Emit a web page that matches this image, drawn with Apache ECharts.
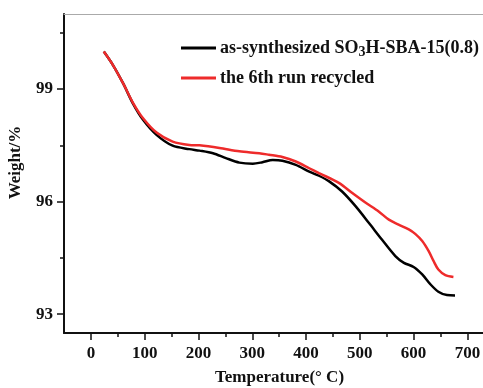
<!DOCTYPE html>
<html>
<head>
<meta charset="utf-8">
<script src="https://cdn.jsdelivr.net/npm/echarts@6/dist/echarts.min.js"></script>
<style>
  html, body { margin: 0; padding: 0; background: #fff; }
  #chart { width: 483px; height: 388px; }
</style>
</head>
<body>
<div id="chart"></div>
<script>
// TGA curves: temperature (°C) vs residual weight (%)
const asSynthTemp = [24, 41, 60, 78, 97, 122, 152, 183, 202, 227, 251, 276, 301, 319, 338, 356, 381, 406, 424, 443, 467, 492, 517, 541, 566, 582, 600, 616, 631, 646, 662, 677];
const asSynthWeight = [100.0, 99.64, 99.15, 98.62, 98.18, 97.78, 97.49, 97.40, 97.36, 97.29, 97.16, 97.04, 97.01, 97.05, 97.11, 97.09, 96.98, 96.80, 96.69, 96.54, 96.27, 95.88, 95.43, 94.99, 94.55, 94.37, 94.26, 94.06, 93.80, 93.60, 93.51, 93.50];

const recycledTemp = [24, 41, 60, 78, 97, 122, 152, 183, 202, 239, 276, 313, 331, 356, 381, 406, 424, 461, 486, 511, 535, 554, 572, 591, 603, 616, 628, 637, 646, 659, 674];
const recycledWeight = [100.0, 99.64, 99.15, 98.64, 98.22, 97.84, 97.60, 97.51, 97.50, 97.43, 97.34, 97.29, 97.25, 97.19, 97.07, 96.89, 96.76, 96.50, 96.23, 95.97, 95.74, 95.52, 95.39, 95.26, 95.14, 94.95, 94.68, 94.42, 94.19, 94.04, 93.99];

const xMajorTicks = [0, 100, 200, 300, 400, 500, 600, 700];
const xMinorTicks = [50, 150, 250, 350, 450, 550, 650];
const yMajorTicks = [93, 96, 99];
const yMinorTicks = [94.5, 97.5, 100.5];

const seriesNames = ['as-synthesized SO3H-SBA-15(0.8)', 'the 6th run recycled'];

const pair = (xs, ys) => xs.map((x, i) => [x, ys[i]]);

const FONT = '"Liberation Serif", "DejaVu Serif", serif';
const X_MIN = -50, X_MAX = 729, Y_MIN = 92.5, Y_MAX = 101;

const chart = echarts.init(document.getElementById('chart'), null, { renderer: 'canvas' });

const hiddenX = (extra) => Object.assign({
  type: 'value', min: X_MIN, max: X_MAX, gridIndex: 0,
  splitLine: { show: false }, axisLabel: { show: false }
}, extra);
const hiddenY = (extra) => Object.assign({
  type: 'value', min: Y_MIN, max: Y_MAX, gridIndex: 0,
  splitLine: { show: false }, axisLabel: { show: false }
}, extra);

chart.setOption({
  animation: false,
  backgroundColor: '#fff',
  grid: { left: 64, right: 0, top: 14, bottom: 55, containLabel: false, outerBoundsMode: 'none' },
  legend: {
    data: seriesNames,
    orient: 'vertical',
    left: 181,
    top: 39,
    padding: 0,
    itemGap: 10,
    itemWidth: 35,
    itemHeight: 3,
    icon: 'rect',
    formatter: (name) => name.indexOf('SO3H') >= 0
      ? 'as-synthesized SO{sub|3}H-SBA-15(0.8)'
      : name,
    textStyle: {
      fontFamily: FONT, fontWeight: 'bold', fontSize: 18, color: '#111',
      padding: [0, 0, 0, -1],
      rich: {
        sub: { fontFamily: FONT, fontWeight: 'bold', fontSize: 14, color: '#111', verticalAlign: 'bottom', padding: [8, 0, 0, 0] }
      }
    }
  },
  xAxis: [
    {
      type: 'value', min: X_MIN, max: X_MAX,
      name: 'Temperature(° C)',
      nameLocation: 'middle',
      nameGap: 36,
      nameTextStyle: { fontFamily: FONT, fontWeight: 'bold', fontSize: 17, color: '#111', padding: [0, 0, 0, 12] },
      axisLine: { onZero: false, lineStyle: { color: '#111', width: 2 } },
      axisTick: { show: true, inside: false, length: 7, customValues: xMajorTicks, lineStyle: { color: '#111', width: 1.5 } },
      axisLabel: { customValues: xMajorTicks, margin: 12, fontFamily: FONT, fontWeight: 'bold', fontSize: 17, color: '#111' },
      splitLine: { show: false }
    },
    hiddenX({
      position: 'bottom',
      axisLine: { show: false, onZero: false },
      axisTick: { show: true, length: 4, customValues: xMinorTicks, lineStyle: { color: '#111', width: 1.5 } }
    }),
    hiddenX({
      position: 'top',
      axisLine: { show: true, onZero: false, lineStyle: { color: '#aaa', width: 1 } },
      axisTick: { show: false }
    })
  ],
  yAxis: [
    {
      type: 'value', min: Y_MIN, max: Y_MAX,
      position: 'left',
      name: 'Weight/%',
      nameLocation: 'middle',
      nameGap: 40,
      nameTextStyle: { fontFamily: FONT, fontWeight: 'bold', fontSize: 17, color: '#111', padding: [0, 0, 0, 22] },
      axisLine: { onZero: false, lineStyle: { color: '#111', width: 2 } },
      axisTick: { show: true, inside: false, length: 7, customValues: yMajorTicks, lineStyle: { color: '#111', width: 1.5 } },
      axisLabel: { customValues: yMajorTicks, margin: 11, fontFamily: FONT, fontWeight: 'bold', fontSize: 17, color: '#111' },
      splitLine: { show: false }
    },
    hiddenY({
      position: 'left',
      axisLine: { show: false, onZero: false },
      axisTick: { show: true, length: 4, customValues: yMinorTicks, lineStyle: { color: '#111', width: 1.5 } }
    })
  ],
  series: [
    {
      name: seriesNames[0], type: 'line', xAxisIndex: 0, yAxisIndex: 0,
      data: pair(asSynthTemp, asSynthWeight),
      smooth: 0.3, symbol: 'none',
      color: '#000',
      lineStyle: { color: '#000', width: 2.5 },
      z: 3
    },
    {
      name: seriesNames[1], type: 'line', xAxisIndex: 0, yAxisIndex: 0,
      data: pair(recycledTemp, recycledWeight),
      smooth: 0.3, symbol: 'none',
      color: '#ee2b2b',
      lineStyle: { color: '#ee2b2b', width: 2.5 },
      z: 4
    }
  ]
});
</script>
</body>
</html>
